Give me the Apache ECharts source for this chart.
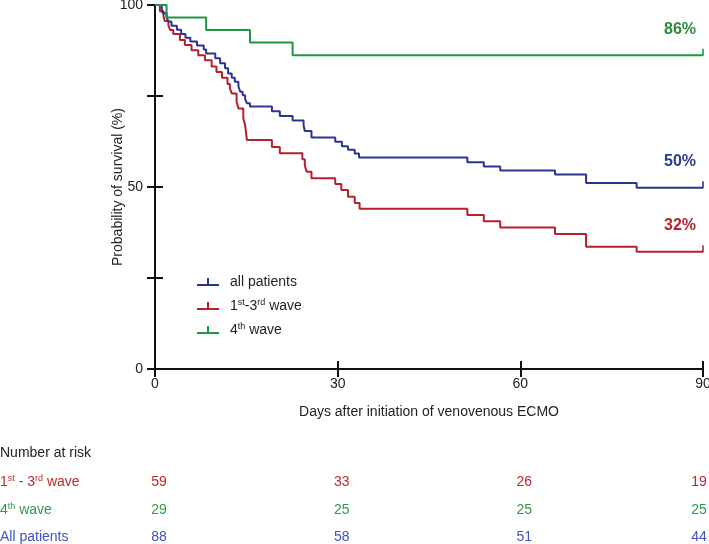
<!DOCTYPE html>
<html><head><meta charset="utf-8">
<script src="https://cdn.jsdelivr.net/npm/echarts@6/dist/echarts.min.js"></script>
<style>html,body{margin:0;padding:0;background:#fff}#c{width:709px;height:544px}</style>
</head><body><div id="c"></div><script>
const FONT = 'Arial, "Liberation Sans", sans-serif';
// ---- data ----
const seriesNames = ['all patients', '1st-3rd wave', '4th wave'];
const allDays = [0,1.1,1.3,1.9,2.2,2.7,3.6,4.3,5.0,5.8,6.9,8.0,8.4,9.9,10.7,11.5,12.0,12.6,13.1,13.7,14.0,14.4,14.8,15.1,15.6,19.2,20.5,22.6,24.4,24.6,25.7,29.6,30.7,31.7,32.8,33.5,51.3,54.0,56.7,65.7,70.8,79.1];
const allSurv = [100,98.9,97.7,96.6,95.5,94.3,93.2,92.0,91.0,90.0,88.9,87.8,86.7,85.4,84.0,82.6,81.2,80.0,78.9,77.6,76.2,75.2,74.2,73.0,72.1,70.8,69.5,68.3,67.0,65.4,63.6,62.4,61.2,60.2,59.2,58.1,56.8,55.6,54.5,53.4,51.1,49.8];
const w13Days = [0,0.8,1.4,1.6,2.2,2.5,3.0,4.1,4.9,6.0,7.1,8.2,9.3,10.1,11.0,11.9,12.3,12.6,13.4,13.7,14.5,14.8,15.1,19.2,20.5,24.2,24.6,24.9,25.7,29.6,30.6,31.7,32.8,33.6,51.3,54.0,56.7,65.7,70.8,79.1];
const w13Surv = [100,98.3,96.9,95.6,94.4,93.1,92.0,90.4,89.0,87.6,86.2,84.8,83.1,81.6,80.0,78.3,77.1,75.7,73.4,71.6,68.9,67.0,62.9,61.0,59.3,57.6,56.0,54.2,52.4,50.8,49.2,47.3,45.6,44.0,42.3,40.6,38.9,37.1,33.6,32.2];
const w4Days = [0,1.9,8.4,15.6,22.6];
const w4Surv = [100,96.6,93.1,89.7,86.2];
const endDay = 90;
const endLabels = ['50%','32%','86%'];
const yLabelVals = [0,50,100];
const riskTimes = [0,30,60,90];
const riskW13 = [59,33,26,19];
const riskW4 = [29,25,25,25];
const riskAll = [88,58,51,44];

const lineColors = ['#2b348f','#b5202a','#1f9640'];
const labelColors = ['#2c3a8e','#b2252b','#2a8a3e'];
const tableColors = {w13:'#c0272d', w4:'#2e9a45', all:'#4352c2'};

function steps(d, s){ const out = d.map((x,i)=>[x,s[i]]); out.push([endDay, s[s.length-1]]); return out; }
const curves = [steps(allDays,allSurv), steps(w13Days,w13Surv), steps(w4Days,w4Surv)];

const chart = echarts.init(document.getElementById('c'), null, {renderer:'canvas'});
const sup = {fontSize:9, fontFamily:FONT, padding:[0,0,7,0]};
const legendFmt = n => n==='1st-3rd wave' ? '1{sup|st}-3{sup|rd} wave' : (n==='4th wave' ? '4{sup|th} wave' : n);

const axisCommonX = {type:'value', min:0, max:90, interval:30, gridIndex:0, position:'bottom'};
const axisCommonY = {type:'value', min:0, max:100, interval:25, gridIndex:0, position:'left'};
const series = [];
curves.forEach((c,i)=>{
  series.push({
    name: seriesNames[i], type:'line', step:'end', data:c, symbol:'none', color:lineColors[i],
    lineStyle:{width:2, color:lineColors[i]}, z: 3 - (i===2?0:i),
    markPoint:{symbol:'circle', symbolSize:1, itemStyle:{color:'rgba(0,0,0,0)'},
      label:{show:true, position:'inside', offset:[-23,-26], formatter:()=>endLabels[i], color:labelColors[i], fontSize:16, fontWeight:'bold', fontFamily:FONT},
      data:[{coord:c[c.length-1]}]}
  });
  series.push({type:'scatter', data:[c[c.length-1]], symbol:'rect', symbolSize:[2,7], symbolOffset:[0,-3], itemStyle:{color:lineColors[i]}, silent:true});
});

chart.setOption({
  animation:false,
  textStyle:{fontFamily:FONT},
  grid:{left:155, right:6, top:5, bottom:175, containLabel:false, outerBoundsMode:'none'},
  legend:{data:seriesNames, orient:'vertical', left:192, top:270, itemWidth:22, itemHeight:8, itemGap:9,
    icon:'path://M0,6 L10,6 L10,0 L12,0 L12,6 L22,6 L22,8 L0,8 Z', symbolKeepAspect:false,
    formatter:legendFmt,
    textStyle:{fontSize:14, color:'#222', fontFamily:FONT, padding:[0,0,0,6], rich:{sup:Object.assign({color:'#222'},sup)}}},
  xAxis:[
    Object.assign({}, axisCommonX, {
      axisLine:{lineStyle:{color:'#111', width:2}}, axisTick:{length:8, lineStyle:{color:'#111', width:2}},
      splitLine:{show:false}, axisLabel:{fontSize:14, color:'#222', margin:8, fontFamily:FONT},
      name:'Days after initiation of venovenous ECMO', nameLocation:'middle', nameGap:36,
      nameTextStyle:{fontSize:14, color:'#222', fontFamily:FONT}}),
    Object.assign({}, axisCommonX, {axisLine:{show:false}, axisLabel:{show:false}, splitLine:{show:false},
      axisTick:{inside:true, length:8, lineStyle:{color:'#111', width:2}}})
  ],
  yAxis:[
    Object.assign({}, axisCommonY, {
      axisLine:{lineStyle:{color:'#111', width:2}}, axisTick:{length:8, lineStyle:{color:'#111', width:2}},
      splitLine:{show:false}, axisLabel:{fontSize:14, color:'#222', margin:12, fontFamily:FONT,
        formatter:v=> yLabelVals.indexOf(v)>=0 ? String(v) : ''},
      name:'Probability of survival (%)', nameLocation:'middle', nameGap:30, nameMoveOverlap:false,
      nameTextStyle:{fontSize:14, color:'#222', fontFamily:FONT}}),
    Object.assign({}, axisCommonY, {axisLine:{show:false}, axisLabel:{show:false}, splitLine:{show:false},
      axisTick:{inside:true, length:8, lineStyle:{color:'#111', width:2}}})
  ],
  series: series
});

// number-at-risk table
const g = [];
const txt = (x,y,text,color,align,rich)=>({type:'text', x:x, y:y, style:{text:text, x:0, y:0, fill:color, fontSize:14, fontFamily:FONT, textAlign:align, textVerticalAlign:'middle', rich:rich}});
const rowY = {head:453, w13:482, w4:510, all:537};
g.push(txt(0,rowY.head,'Number at risk','#222','left'));
const supR = c => ({sup:{fill:c, fontSize:9, fontFamily:FONT, padding:[0,0,7,0]}});
g.push(txt(0,rowY.w13,'1{sup|st} - 3{sup|rd} wave',tableColors.w13,'left',supR(tableColors.w13)));
g.push(txt(0,rowY.w4,'4{sup|th} wave',tableColors.w4,'left',supR(tableColors.w4)));
g.push(txt(0,rowY.all,'All patients',tableColors.all,'left'));
riskTimes.forEach((t,i)=>{
  const px = chart.convertToPixel({xAxisIndex:0}, t);
  const cx = Math.min(px+4, 699);
  g.push(txt(cx,rowY.w13,String(riskW13[i]),tableColors.w13,'center'));
  g.push(txt(cx,rowY.w4,String(riskW4[i]),tableColors.w4,'center'));
  g.push(txt(cx,rowY.all,String(riskAll[i]),tableColors.all,'center'));
});
chart.setOption({graphic:{elements:g}});
</script></body></html>
